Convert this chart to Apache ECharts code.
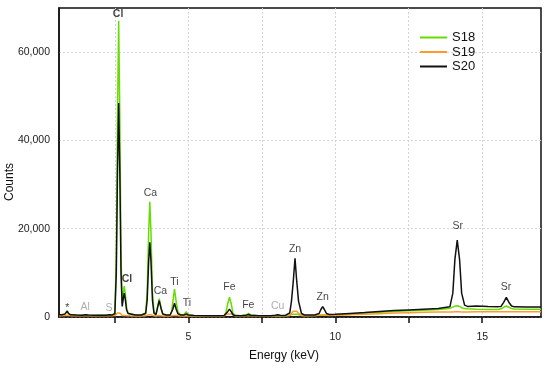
<!DOCTYPE html>
<html><head><meta charset="utf-8">
<script src="https://cdn.jsdelivr.net/npm/echarts@6/dist/echarts.min.js"></script>
<style>html,body{margin:0;padding:0;background:#fff}#c{width:550px;height:368px}</style>
</head><body><div id="c"></div>
<script>
// Energy grid (keV)
const energy = [
  0.6, 0.7, 0.8, 0.85, 0.88, 0.92, 1.0, 1.2, 1.4, 1.49,
  1.6, 1.8, 2.0, 2.2, 2.31, 2.4, 2.5, 2.55, 2.59, 2.63,
  2.67, 2.71, 2.75, 2.79, 2.82, 2.86, 2.9, 2.95, 3.0, 3.2,
  3.4, 3.55, 3.6, 3.65, 3.69, 3.73, 3.78, 3.83, 3.9, 3.95,
  4.01, 4.07, 4.13, 4.25, 4.38, 4.43, 4.47, 4.53, 4.59, 4.65,
  4.75, 4.86, 4.93, 5.0, 5.2, 5.6, 6.0, 6.22, 6.28, 6.34,
  6.40, 6.46, 6.52, 6.6, 6.8, 6.98, 7.05, 7.12, 7.4, 7.8,
  7.96, 8.04, 8.12, 8.3, 8.45, 8.51, 8.57, 8.63, 8.69, 8.75,
  8.85, 8.95, 9.3, 9.45, 9.51, 9.57, 9.63, 9.7, 9.8, 10.0,
  10.5, 11.0, 11.5, 12.0, 12.5, 13.0, 13.5, 13.9, 14.0, 14.07,
  14.15, 14.23, 14.3, 14.4, 14.5, 14.8, 15.2, 15.55, 15.64, 15.73,
  15.82, 15.91, 16.0, 16.1, 16.5, 17.0
];
const countsS18 = [
  450, 480, 700, 1000, 1450, 800, 450, 400, 380, 450,
  380, 360, 380, 370, 450, 400, 900, 13800, 45000, 67100,
  45000, 13800, 3000, 5600, 7000, 5000, 2000, 900, 500, 400,
  400, 1000, 5600, 19000, 26100, 19000, 5600, 1200, 600, 2200,
  4150, 2200, 700, 400, 450, 1200, 3300, 6300, 3300, 1100,
  400, 600, 1200, 500, 300, 250, 280, 350, 1000, 3000,
  4470, 3000, 900, 300, 260, 500, 840, 450, 260, 260,
  280, 350, 280, 300, 380, 500, 650, 720, 650, 500,
  350, 320, 330, 380, 430, 480, 430, 380, 350, 400,
  650, 850, 1050, 1250, 1400, 1550, 1700, 1950, 2250, 2450,
  2550, 2400, 2100, 1900, 1850, 1750, 1700, 1700, 1850, 2200,
  2500, 2200, 1900, 1800, 1750, 1750
];
const countsS19 = [
  300, 300, 320, 350, 400, 330, 300, 280, 280, 300,
  280, 270, 280, 280, 320, 300, 320, 500, 900, 1100,
  900, 500, 320, 330, 350, 320, 290, 270, 260, 250,
  250, 260, 350, 500, 600, 500, 350, 260, 250, 280,
  320, 280, 250, 240, 240, 260, 330, 400, 330, 260,
  240, 240, 260, 240, 230, 230, 240, 260, 400, 700,
  900, 700, 400, 260, 250, 260, 300, 260, 250, 250,
  260, 300, 260, 260, 350, 800, 1300, 1590, 1300, 800,
  350, 300, 320, 400, 480, 520, 480, 400, 380, 420,
  500, 620, 750, 880, 980, 1060, 1120, 1150, 1160, 1170,
  1180, 1170, 1160, 1160, 1160, 1170, 1180, 1180, 1190, 1200,
  1200, 1200, 1200, 1200, 1200, 1200
];
const countsS20 = [
  500, 520, 650, 900, 1300, 800, 500, 450, 420, 520,
  430, 400, 420, 400, 520, 450, 700, 10000, 32500, 48500,
  32500, 10000, 2400, 4300, 5400, 3800, 1600, 800, 550, 450,
  450, 800, 3800, 12500, 16900, 12500, 3800, 900, 550, 2000,
  3700, 2000, 700, 450, 450, 800, 1700, 3100, 1700, 700,
  450, 480, 700, 450, 350, 300, 300, 320, 500, 1200,
  1800, 1200, 500, 320, 300, 420, 550, 400, 300, 300,
  380, 520, 380, 350, 900, 3600, 8000, 13300, 8000, 3600,
  800, 450, 450, 800, 1700, 2340, 1700, 800, 550, 600,
  800, 1000, 1250, 1450, 1600, 1750, 1900, 2300, 5400, 13000,
  17400, 13000, 5400, 2700, 2400, 2500, 2400, 2350, 2400, 3300,
  4450, 3300, 2500, 2300, 2250, 2250
];
const seriesNames = ['S18', 'S19', 'S20'];
const xTickValues = [2.5, 5, 7.5, 10, 12.5, 15];
const xTickLabels = [5, 10, 15];
const yTickLabels = [0, 20000, 40000, 60000];
// Peak annotations: name, energy (keV), counts where the text sits
const peakNames  = ['*', 'Al', 'S', 'Cl', 'Cl', 'Ca', 'Ca', 'Ti', 'Ti', 'Fe', 'Fe', 'Cu', 'Zn', 'Zn', 'Sr', 'Sr'];
const peakEnergy = [0.88, 1.49, 2.30, 2.61, 2.91, 3.71, 4.05, 4.53, 4.95, 6.40, 7.04, 8.04, 8.63, 9.57, 14.17, 15.81];
const peakLabelCounts = [2100, 2200, 1970, 68700, 8620, 28050, 5960, 7870, 3110, 6740, 2790, 2560, 15350, 4470, 20480, 6870];

const FONT = '"Liberation Sans", Arial, Helvetica, sans-serif';
const colors = ['#66dd00', '#ff9a2e', '#111111'];
const greyNames = ['Al', 'S', 'Cu'];
const boldNames = ['Cl'];
const allCounts = [countsS18, countsS19, countsS20];

const chart = echarts.init(document.getElementById('c'), null, {renderer: 'canvas'});
const lineSeries = seriesNames.map((n, i) => ({
  name: n, type: 'line', symbol: 'none', showSymbol: false, animation: false,
  data: energy.map((e, j) => [e, allCounts[i][j]]),
  lineStyle: {width: 1.5, color: colors[i]}, itemStyle: {color: colors[i]},
  z: 2 + i
}));
const labelSeries = {
  type: 'scatter', symbolSize: 0, silent: true, animation: false, z: 10,
  data: peakNames.map((n, i) => ({
    value: [peakEnergy[i], peakLabelCounts[i]],
    label: {
      show: true, position: 'inside', formatter: n,
      fontFamily: FONT, fontSize: 10.5,
      fontWeight: boldNames.includes(n) ? 'bold' : 'normal',
      color: greyNames.includes(n) ? '#999999' : '#111111'
    }
  }))
};
chart.setOption({
  backgroundColor: '#fff',
  animation: false,
  grid: {left: 59, right: 9, top: 8, bottom: 51, show: true, borderColor: '#111', borderWidth: 1.5, backgroundColor: 'transparent'},
  legend: {
    orient: 'vertical', left: 419, top: 31, padding: 0, itemWidth: 27, itemHeight: 14, itemGap: 1.5,
    itemStyle: {opacity: 0},
    data: seriesNames, textStyle: {fontFamily: FONT, fontSize: 13, color: '#111'}
  },
  xAxis: {
    type: 'value', min: 0.6, max: 17,
    axisLine: {onZero: false, lineStyle: {color: '#111', width: 1.5}},
    axisTick: {show: true, customValues: xTickValues, length: 6, lineStyle: {color: '#111', width: 1.5}},
    axisLabel: {customValues: xTickLabels, margin: 15, fontFamily: FONT, fontSize: 10.5, color: '#222'},
    splitLine: {show: true, lineStyle: {type: [2, 2], color: '#d4d4d4', width: 1}}
  },
  yAxis: {
    type: 'value', min: 0, max: 70000,
    axisLine: {show: true, lineStyle: {color: '#111', width: 1.5}},
    axisTick: {show: false, customValues: yTickLabels},
    axisLabel: {customValues: yTickLabels, margin: 9, fontFamily: FONT, fontSize: 10.5, color: '#222',
      formatter: v => Number(v).toLocaleString('en-US')},
    splitLine: {show: true, lineStyle: {type: [2, 2], color: '#d4d4d4', width: 1}}
  },
  graphic: [
    {type: 'text', position: [10, 182], rotation: Math.PI / 2,
      style: {text: 'Counts', fontFamily: FONT, fontSize: 12, fill: '#111', textAlign: 'center', textVerticalAlign: 'middle'}},
    {type: 'text', position: [284, 356],
      style: {text: 'Energy (keV)', fontFamily: FONT, fontSize: 12, fill: '#111', textAlign: 'center', textVerticalAlign: 'middle'}}
  ],
  series: [...lineSeries, labelSeries]
});
</script></body></html>
